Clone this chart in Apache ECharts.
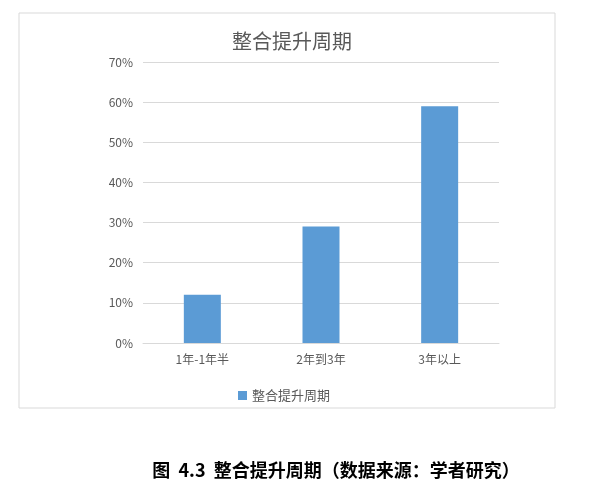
<!DOCTYPE html>
<html lang="zh">
<head>
    <meta charset="UTF-8">
    <title>整合提升周期</title>
    <script src="https://cdn.jsdelivr.net/npm/echarts@6/dist/echarts.min.js"></script>
</head>
<style>
    *{
        margin: 0;
        padding: 0;
    }
    html, body{
        overflow: hidden;
        width: 100%;
        height: 100%;
        background: #fff;
    }
    .contain{
        width: 590px;
        height: 482px;
    }
</style>
<body>
<div class="contain"></div>
<script>
    // 数据
    const categories = ['1年-1年半', '2年到3年', '3年以上'];
    const values = [0.12, 0.29, 0.59];
    const seriesName = '整合提升周期';
    const caption = '图  4.3  整合提升周期（数据来源：学者研究）';

    const font = '"Noto Sans CJK SC", "Microsoft YaHei", sans-serif';
    const grey = '#595959';

    let chart = echarts.init(document.querySelector('.contain'));

    let option = {
        animation: false,
        textStyle: {fontFamily: font},
        title: [
            {
                text: '整合提升周期',
                left: 287,
                textAlign: 'center',
                top: 26,
                textStyle: {
                    fontSize: 20,
                    fontWeight: 'normal',
                    color: grey,
                    fontFamily: font
                }
            },
            {
                text: caption,
                left: 331,
                textAlign: 'center',
                top: 456,
                textStyle: {
                    fontSize: 18,
                    fontWeight: 'bold',
                    color: '#000',
                    fontFamily: font
                }
            }
        ],
        graphic: [{
            type: 'rect',
            shape: {x: 19, y: 13, width: 536, height: 395},
            style: {fill: 'none', stroke: '#d9d9d9', lineWidth: 1},
            silent: true,
            z: -1
        }],
        legend: {
            data: [seriesName],
            left: 233,
            top: 384,
            icon: 'rect',
            itemWidth: 9,
            itemHeight: 9,
            itemGap: 6,
            textStyle: {fontSize: 13, color: grey, fontFamily: font}
        },
        grid: {
            left: 143,
            right: 91,
            top: 62,
            bottom: 139
        },
        xAxis: {
            type: 'category',
            data: categories,
            axisTick: {show: false},
            axisLine: {lineStyle: {color: '#d9d9d9'}},
            axisLabel: {fontSize: 12, color: grey, margin: 10}
        },
        yAxis: {
            type: 'value',
            min: 0,
            max: 0.7,
            interval: 0.1,
            axisLine: {show: false},
            axisTick: {show: false},
            splitLine: {lineStyle: {color: '#d9d9d9'}},
            axisLabel: {
                fontSize: 12,
                color: grey,
                margin: 10,
                formatter: v => Math.round(v * 100) + '%'
            }
        },
        series: [{
            name: seriesName,
            type: 'bar',
            data: values,
            barWidth: 37,
            itemStyle: {color: '#5b9bd5'}
        }]
    };

    chart.setOption(option);
</script>
</body>
</html>
